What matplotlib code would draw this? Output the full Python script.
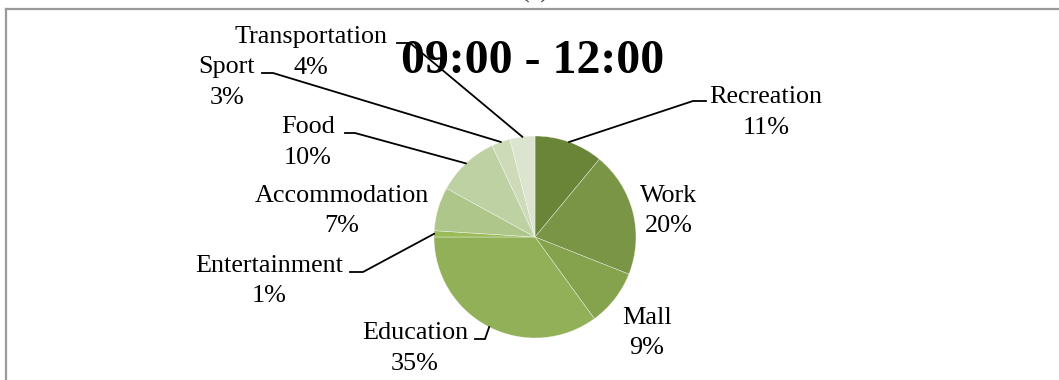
import numpy as np
import matplotlib
matplotlib.use("Agg")
import matplotlib.pyplot as plt

# activity shares, clockwise from 12 o'clock
activities = ["Recreation", "Work", "Mall", "Education", "Entertainment",
              "Accommodation", "Food", "Sport", "Transportation"]
shares = [11, 20, 9, 35, 1, 7, 10, 3, 4]
colors = ["#6a8537", "#7b9546", "#85a24d", "#92b058", "#9bbb59",
          "#aec68a", "#bed1a2", "#cddbb9", "#dae4ce"]
title = "09:00 - 12:00"

W, H = 1059, 380
plt.rcParams["font.family"] = ["Liberation Serif", "DejaVu Serif"]

fig = plt.figure(figsize=(W / 100, H / 100), dpi=100)
ax = fig.add_axes([0, 0, 1, 1])

def Y(y):
    # pixel rows are counted from the top
    return H - y

cx, cy, r = 535, Y(237), 101
wedges, _ = ax.pie(shares, colors=colors, startangle=90, counterclock=False,
                   radius=r, center=(cx, cy),
                   wedgeprops=dict(edgecolor=(1, 1, 1, 0.6), linewidth=0.4))
ax.set_aspect("auto")
ax.set_xlim(0, W)
ax.set_ylim(0, H)
ax.axis("off")

# label anchor: (centre x, baseline of first line), leader: (x near label, elbow x, y)
label_pos = [(766, 103), (669, 202), (647, 324), (415, 339), (269, 272),
             (342, 202), (308, 133), (227, 73), (311, 43)]
leaders = [(706, 693, 101), None, None, (475, 485, 339), (350, 363, 272),
           None, (345, 355, 133), (262, 273, 73), (397, 410, 43)]

for w, name, val, (lx, ly), ld in zip(wedges, activities, shares, label_pos, leaders):
    ax.text(lx, Y(ly), name, fontsize=18.8, ha="center", va="baseline")
    ax.text(lx, Y(ly + 30.5), f"{val}%", fontsize=18.8, ha="center", va="baseline")
    if ld is None:
        continue
    mid = np.deg2rad((w.theta1 + w.theta2) / 2)
    ex, ey = cx + r * np.cos(mid), cy + r * np.sin(mid)
    x0, x1, yy = ld
    ax.plot([x0, x1, ex], [Y(yy), Y(yy), ey], color="black", lw=1.3,
            solid_joinstyle="miter", zorder=3)

ax.text(533, Y(73), title, fontsize=34.4, fontweight="bold", ha="center", va="baseline")

# panel letter sitting above the frame, mostly cut off
ax.text(535, Y(-2), "(c)", fontsize=18.8, ha="center", va="baseline", color="#333333")

# chart frame (top and left edges)
ax.plot([6, W], [Y(9), Y(9)], color="#9a9a9a", lw=1.6, clip_on=False)
ax.plot([6, 6], [Y(9), 0], color="#9a9a9a", lw=1.6, clip_on=False)

fig.savefig("out.png", dpi=100)
